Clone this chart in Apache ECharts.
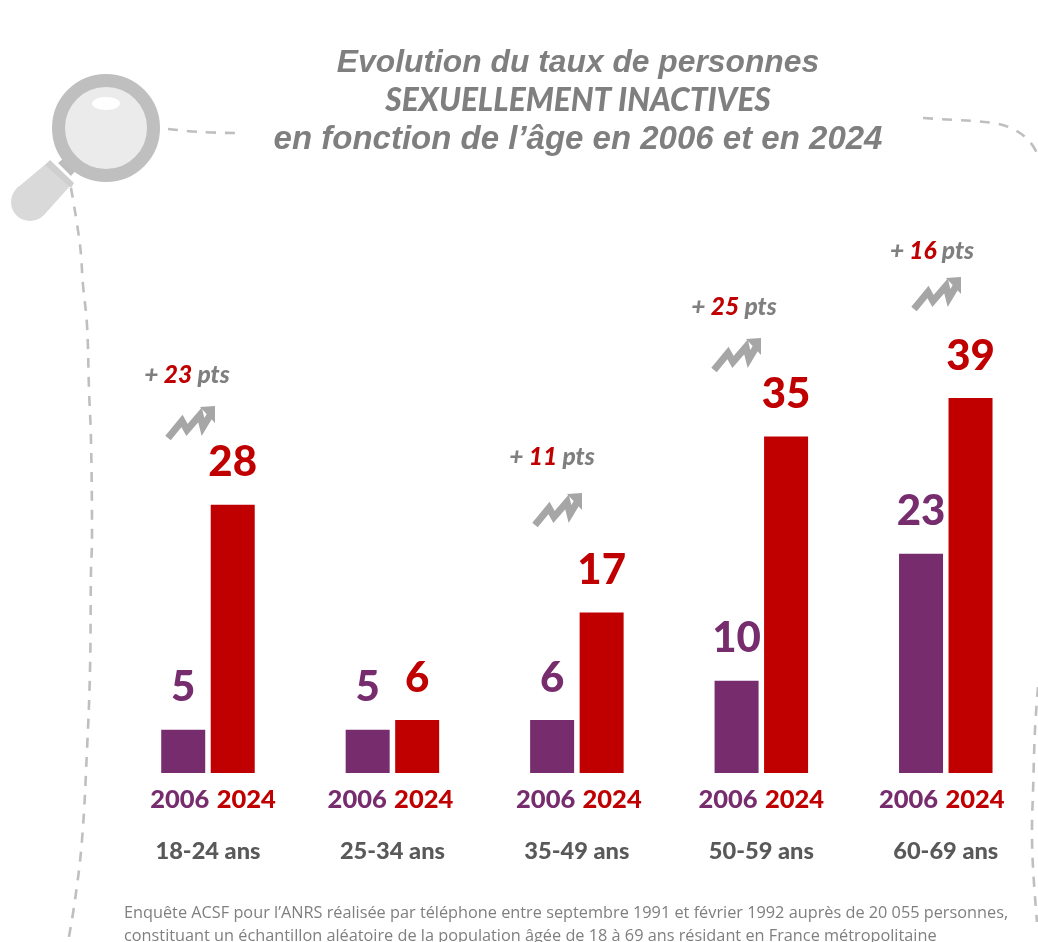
<!DOCTYPE html>
<html><head><meta charset="utf-8">
<style>html,body{margin:0;background:#fff}#c{width:1038px;height:942px}</style>
<script src="https://cdn.jsdelivr.net/npm/echarts@6/dist/echarts.min.js"></script></head>
<body><div id="c"></div>
<script>
const ageGroups = ['18-24 ans','25-34 ans','35-49 ans','50-59 ans','60-69 ans'];
const year1 = '2006';
const year2 = '2024';
const bars2006 = [4.5,4.5,5.5,9.6,22.8];
const bars2024 = [27.9,5.5,16.7,35,39];
const labels2006 = [5,5,6,10,23];
const labels2024 = [28,6,17,35,39];
const gains = [23,null,11,25,16];
const titleLines = ['Evolution du taux de personnes','SEXUELLEMENT INACTIVES','en fonction de l\u2019âge en 2006 et en 2024'];
const noteLines = ['Enquête ACSF pour l\u2019ANRS réalisée par téléphone entre septembre 1991 et février 1992 auprès de 20 055 personnes,','constituant un échantillon aléatoire de la population âgée de 18 à 69 ans résidant en France métropolitaine'];

const PURPLE='#772C6E', RED='#C00000', GREY='#7F7F7F', FONT='Lato';
const yearNudge=[5,-2,2,0,-4];
const gainPos=[[187,375,191,423],null,[552,457,558,510],[734,307,737,355],[932,251,937,294]];
const titleFonts=['italic bold 31.8px "Liberation Sans"','italic 900 31.7px Lato','italic bold 33px "Liberation Sans"'];
const yearRich={};
yearNudge.forEach((n,i)=>{
  yearRich['p'+i]={color:PURPLE,fontFamily:FONT,fontWeight:900,fontSize:25.5,padding:[0,0,0,Math.max(0,n*2)]};
  yearRich['q'+i]={color:RED,fontFamily:FONT,fontWeight:900,fontSize:25.5,padding:[0,Math.max(0,-n*2),0,4]};
});
const dash={stroke:'#BFBFBF',lineWidth:2.6,lineDash:[10,9],fill:'none'};
const dashed=(points)=>({type:'polyline',shape:{points,smooth:0.4},style:dash});
const graphics=[];
titleLines.forEach((t,i)=>graphics.push({type:'text',x:578,y:[63,101,140][i],style:{text:t,align:'center',verticalAlign:'middle',fill:GREY,font:titleFonts[i]}}));
noteLines.forEach((t,i)=>graphics.push({type:'text',x:124,y:[913,936][i],style:{text:t,verticalAlign:'middle',fill:GREY,font:'16.3px "Open Sans"'}}));
gains.forEach((g,i)=>{
  if(g==null) return;
  const [tx,ty,ax,ay]=gainPos[i];
  graphics.push({type:'text',x:tx,y:ty,style:{align:'center',verticalAlign:'middle',text:'{a|+ }{b|'+g+'}{a| pts}',rich:{
    a:{fill:GREY,font:'italic 900 24.5px Lato'},b:{fill:RED,font:'italic 900 24.5px Lato'}}}});
  graphics.push({type:'group',x:ax,y:ay,children:[
    {type:'polyline',shape:{points:[[-23,15],[-9,-2],[-4,7],[9,-8],[12,4],[21,-11]]},style:{stroke:'#A6A6A6',lineWidth:7,fill:'none'}},
    {type:'polygon',shape:{points:[[9,-16],[24,-17],[24,0]]},style:{fill:'#A6A6A6'}}
  ]});
});
// decorative dashed frame
graphics.push(dashed([[168,129],[200,132],[236,133]]));
graphics.push(dashed([[71,188],[80,245],[83,285],[87,325],[89,390],[91,440],[92,540],[91,570],[90,670],[87,750],[82,840],[75,900],[68,942]]));
graphics.push(dashed([[923,118],[938,119],[993,123],[1015,130],[1030,142],[1038,155]]));
graphics.push(dashed([[1038,687],[1035,730],[1033,793],[1032,827],[1033,867],[1037,922]]));
// magnifier
graphics.push({type:'group',children:[
  {type:'circle',shape:{cx:30,cy:202,r:19},style:{fill:'#D9D9D9'}},
  {type:'polygon',shape:{points:[[16,189],[47,163],[70,186],[44,215]]},style:{fill:'#D9D9D9'}},
  {type:'polygon',shape:{points:[[58,163],[64,158],[76,170],[71,176]]},style:{fill:'#BDBDBD'}},
  {type:'polygon',shape:{points:[[45,165],[50,160],[74,183],[71,188]]},style:{fill:'#CFCFCF'}},
  {type:'circle',shape:{cx:106,cy:128,r:47.5},style:{fill:'#EBEBEB',stroke:'#BFBFBF',lineWidth:13}},
  {type:'ellipse',shape:{cx:106,cy:103.5,rx:14,ry:6.5},style:{fill:'#FFFFFF'}}
]});

const chart=echarts.init(document.getElementById('c'),null,{renderer:'canvas'});
const valueLabel=(arr,color)=>({show:true,position:'top',distance:21,color,fontFamily:FONT,fontWeight:900,fontSize:42,
  formatter:p=>arr[p.dataIndex]});
chart.setOption({
  animation:false,
  backgroundColor:'#fff',
  grid:{left:115.75,top:100,width:922.5,height:673,containLabel:false},
  xAxis:[
    {type:'category',data:ageGroups,axisLine:{show:false},axisTick:{show:false},
     axisLabel:{interval:0,margin:14,hideOverlap:false,rich:yearRich,
       formatter:(v,i)=>'{p'+i+'|'+year1+'} {q'+i+'|'+year2+'}'}},
    {type:'category',position:'bottom',offset:51,data:ageGroups,axisLine:{show:false},axisTick:{show:false},
     axisLabel:{interval:0,margin:15,color:'#595959',fontFamily:FONT,fontWeight:900,fontSize:23.6}}
  ],
  yAxis:{type:'value',min:0,max:70,show:false,splitLine:{show:false}},
  series:[
    {name:year1,type:'bar',data:bars2006,barWidth:44,barGap:'12.5%',itemStyle:{color:PURPLE},label:valueLabel(labels2006,PURPLE)},
    {name:year2,type:'bar',data:bars2024,barWidth:44,itemStyle:{color:RED},label:valueLabel(labels2024,RED)}
  ],
  graphic:graphics
});
</script></body></html>
